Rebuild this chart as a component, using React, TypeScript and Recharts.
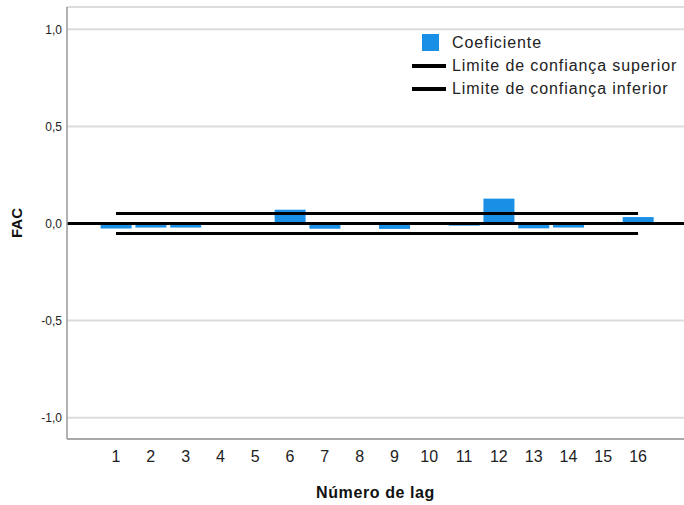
import React from "react";
import {
  ComposedChart,
  Bar,
  Line,
  XAxis,
  YAxis,
  CartesianGrid,
  ReferenceLine,
  Label,
} from "recharts";

const LAGS = [1, 2, 3, 4, 5, 6, 7, 8, 9, 10, 11, 12, 13, 14, 15, 16];
const COEFICIENTE = [
  -0.026, -0.021, -0.021, -0.006, 0.005, 0.071, -0.027, 0.006, -0.028, -0.005, -0.011, 0.128, -0.025,
  -0.021, 0.004, 0.033,
];
const LIMITE_SUPERIOR = [
  0.052, 0.052, 0.052, 0.052, 0.052, 0.052, 0.052, 0.052, 0.052, 0.052, 0.052, 0.052, 0.052, 0.052, 0.052,
  0.052,
];
const LIMITE_INFERIOR = [
  -0.052, -0.052, -0.052, -0.052, -0.052, -0.052, -0.052, -0.052, -0.052, -0.052, -0.052, -0.052, -0.052,
  -0.052, -0.052, -0.052,
];
const Y_TICKS = [-1, -0.5, 0, 0.5, 1];

const FONT = '"Liberation Sans", Arial, sans-serif';
const BAR_COLOR = "#1a8fe6";

const SERIES = [
  { key: "coef", name: "Coeficiente", kind: "square", color: BAR_COLOR },
  { key: "upper", name: "Limite de confiança superior", kind: "line", color: "#000" },
  { key: "lower", name: "Limite de confiança inferior", kind: "line", color: "#000" },
];

const data = LAGS.map((lag, i) => ({
  lag,
  coef: COEFICIENTE[i],
  upper: LIMITE_SUPERIOR[i],
  lower: LIMITE_INFERIOR[i],
}));

const formatY = (v: number) => v.toFixed(1).replace(".", ",");

function LegendBox() {
  return (
    <div
      style={{
        position: "absolute",
        left: 412,
        top: 31,
        fontFamily: FONT,
        fontSize: 16,
        letterSpacing: 0.9,
        color: "#222",
      }}
    >
      {SERIES.map((s) => (
        <div key={s.key} style={{ display: "flex", alignItems: "center", height: 23, whiteSpace: "nowrap" }}>
          {s.kind === "square" ? (
            <span style={{ width: 17, height: 17, background: s.color, marginLeft: 10, marginRight: 13 }} />
          ) : (
            <span style={{ width: 34, height: 4, background: s.color, marginRight: 6 }} />
          )}
          <span>{s.name}</span>
        </div>
      ))}
    </div>
  );
}

export default function App() {
  return (
    <div style={{ position: "absolute", left: 0, top: 0, width: 684, height: 505, background: "#fff" }}>
      <ComposedChart width={684} height={505} data={data} margin={{ top: 7, right: 0, bottom: 0, left: 0 }}>
        <CartesianGrid vertical={false} stroke="#dcdcdc" strokeWidth={2} />
        <XAxis
          dataKey="lag"
          type="number"
          domain={[-0.408, 17.32]}
          ticks={LAGS}
          allowDataOverflow
          height={66}
          tickLine={false}
          tickSize={10}
          tickMargin={2}
          axisLine={{ stroke: "#999", strokeWidth: 1.5 }}
          tick={{ fontFamily: FONT, fontSize: 16, fill: "#222" }}
        >
          <Label
            content={(p: any) => (
              <text
                x={p.viewBox.x + p.viewBox.width / 2}
                y={498}
                textAnchor="middle"
                fontFamily={FONT}
                fontSize={16}
                fontWeight="bold"
                letterSpacing={0.6}
                fill="#111"
              >
                Número de lag
              </text>
            )}
          />
        </XAxis>
        <YAxis
          type="number"
          domain={[-1.11, 1.115]}
          ticks={Y_TICKS}
          allowDataOverflow
          width={67}
          tickLine={false}
          tickSize={3}
          tickMargin={2}
          tickFormatter={formatY}
          axisLine={{ stroke: "#999", strokeWidth: 1.5 }}
          tick={{ fontFamily: FONT, fontSize: 12, fill: "#222" }}
        >
          <Label
            content={(p: any) => {
              const cy = p.viewBox.y + p.viewBox.height / 2;
              return (
                <text
                  x={16}
                  y={cy}
                  transform={`rotate(-90, 16, ${cy})`}
                  textAnchor="middle"
                  dominantBaseline="central"
                  fontFamily={FONT}
                  fontSize={15}
                  fontWeight="bold"
                  fill="#111"
                >
                  FAC
                </text>
              );
            }}
          />
        </YAxis>
        <Bar dataKey="coef" name="Coeficiente" fill={BAR_COLOR} barSize={31} isAnimationActive={false} />
        <Line
          dataKey="upper"
          name="Limite de confiança superior"
          stroke="#000"
          strokeWidth={3}
          dot={false}
          activeDot={false}
          isAnimationActive={false}
        />
        <Line
          dataKey="lower"
          name="Limite de confiança inferior"
          stroke="#000"
          strokeWidth={3}
          dot={false}
          activeDot={false}
          isAnimationActive={false}
        />
        <ReferenceLine y={0} stroke="#000" strokeWidth={3} />
      </ComposedChart>
      <LegendBox />
    </div>
  );
}
